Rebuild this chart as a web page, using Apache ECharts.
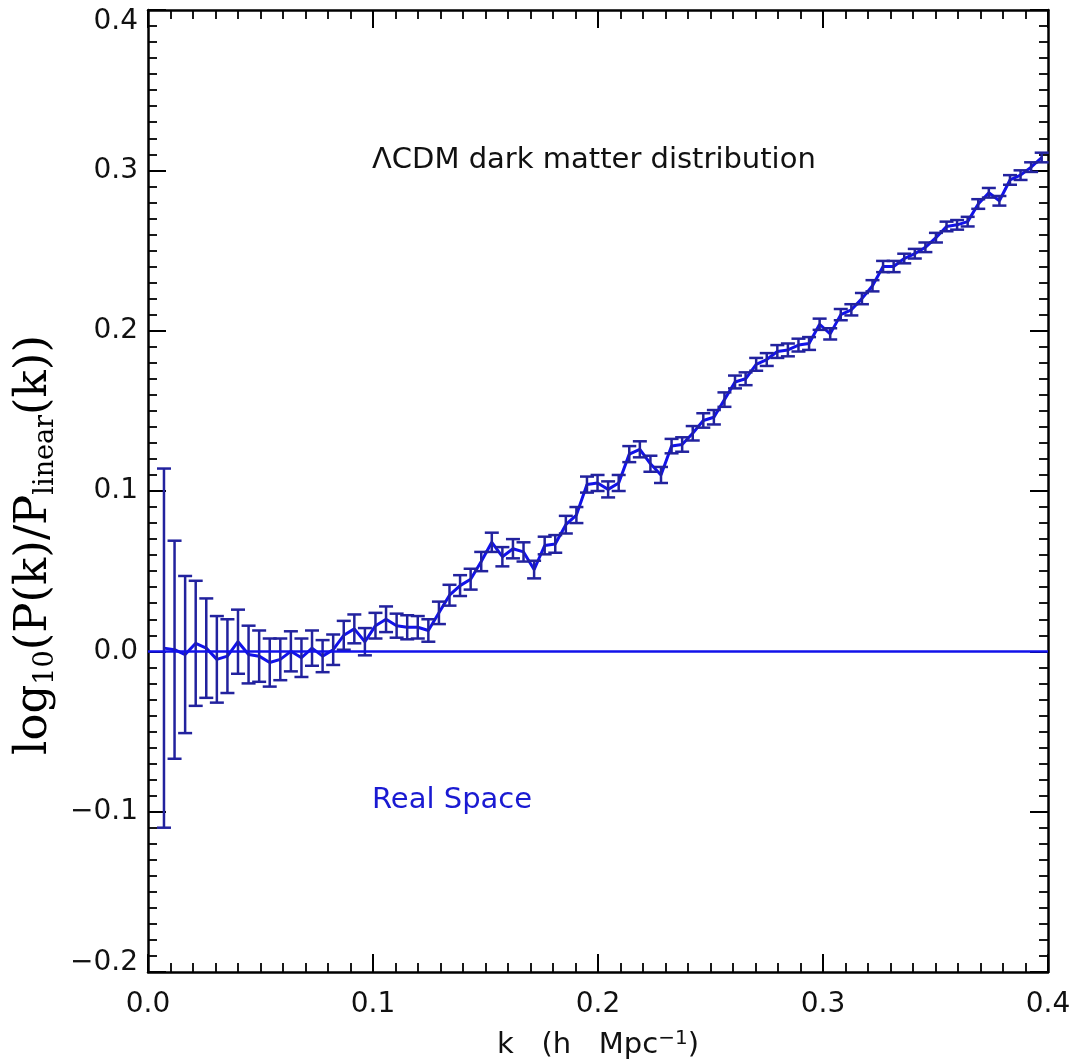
<!DOCTYPE html>
<html>
<head>
<meta charset="utf-8">
<script src="https://cdn.jsdelivr.net/npm/echarts@6/dist/echarts.min.js"></script>
<style>
  html, body { margin: 0; padding: 0; background: #fff; }
  #chart { width: 1070px; height: 1060px; }
</style>
</head>
<body>
<div id="chart"></div>
<script>
// k bins (h/Mpc)
const kValues = [
  0.0071, 0.0118, 0.0165, 0.0212, 0.0259, 0.0306, 0.0353, 0.0400, 0.0447, 0.0494,
  0.0541, 0.0588, 0.0635, 0.0682, 0.0729, 0.0776, 0.0823, 0.0870, 0.0917, 0.0964,
  0.1011, 0.1058, 0.1105, 0.1152, 0.1199, 0.1246, 0.1293, 0.1340, 0.1387, 0.1434,
  0.1481, 0.1528, 0.1575, 0.1622, 0.1669, 0.1716, 0.1763, 0.1810, 0.1857, 0.1904,
  0.1951, 0.1998, 0.2045, 0.2092, 0.2139, 0.2186, 0.2233, 0.2280, 0.2327, 0.2374,
  0.2421, 0.2468, 0.2515, 0.2562, 0.2609, 0.2656, 0.2703, 0.2750, 0.2797, 0.2844,
  0.2891, 0.2938, 0.2985, 0.3032, 0.3079, 0.3126, 0.3173, 0.3220, 0.3267, 0.3314,
  0.3361, 0.3408, 0.3455, 0.3502, 0.3549, 0.3596, 0.3643, 0.3690, 0.3737, 0.3784,
  0.3831, 0.3878, 0.3925, 0.3972
];

// log10(P(k)/P_linear(k))
const ratioValues = [
  0.002, 0.001, -0.002, 0.005, 0.002, -0.005, -0.003, 0.006, -0.002, -0.003,
  -0.007, -0.005, 0.000, -0.004, 0.002, -0.003, 0.001, 0.010, 0.014, 0.006,
  0.016, 0.020, 0.016, 0.015, 0.015, 0.013, 0.024, 0.035, 0.041, 0.045,
  0.056, 0.068, 0.059, 0.064, 0.062, 0.051, 0.066, 0.067, 0.079, 0.085,
  0.104, 0.105, 0.101, 0.105, 0.123, 0.126, 0.117, 0.110, 0.128, 0.129,
  0.136, 0.144, 0.146, 0.157, 0.168, 0.170, 0.179, 0.182, 0.187, 0.188,
  0.191, 0.192, 0.204, 0.198, 0.210, 0.213, 0.220, 0.228, 0.240, 0.240,
  0.245, 0.248, 0.252, 0.258, 0.265, 0.266, 0.268, 0.279, 0.286, 0.281,
  0.294, 0.297, 0.302, 0.308
];

// 1-sigma error
const errValues = [
  0.112, 0.068, 0.049, 0.039, 0.031, 0.027, 0.023, 0.020, 0.018, 0.016,
  0.015, 0.013, 0.0125, 0.012, 0.011, 0.010, 0.0095, 0.009, 0.009, 0.0085,
  0.008, 0.008, 0.0075, 0.0075, 0.007, 0.007, 0.007, 0.0065, 0.0065, 0.0065,
  0.006, 0.006, 0.006, 0.006, 0.006, 0.0055, 0.0055, 0.0055, 0.0055, 0.005,
  0.005, 0.005, 0.005, 0.005, 0.005, 0.005, 0.005, 0.005, 0.0045, 0.0045,
  0.0045, 0.0045, 0.0045, 0.0045, 0.004, 0.004, 0.004, 0.004, 0.004, 0.004,
  0.004, 0.004, 0.0035, 0.0035, 0.0035, 0.0035, 0.0035, 0.0035, 0.0035, 0.0035,
  0.003, 0.003, 0.003, 0.003, 0.003, 0.003, 0.003, 0.003, 0.003, 0.003,
  0.003, 0.003, 0.003, 0.003
];

const xTicks = [0.0, 0.1, 0.2, 0.3, 0.4];
const yTicks = [-0.2, -0.1, 0.0, 0.1, 0.2, 0.3, 0.4];

const lineColor = '#1212ea';
const barColor = '#22229e';
const labelFont = 'DejaVu Sans';

const chart = echarts.init(document.getElementById('chart'), null, { renderer: 'canvas' });

const lineData = kValues.map((k, i) => [k, ratioValues[i]]);
const barData = kValues.map((k, i) => [k, ratioValues[i] - errValues[i], ratioValues[i] + errValues[i]]);

const frameAxis = {
  type: 'value',
  axisLine: { show: true, onZero: false, lineStyle: { color: '#000', width: 2.5 } },
  axisTick: { show: true, inside: true, length: 18, lineStyle: { color: '#000', width: 2 } },
  minorTick: { show: true, splitNumber: 10, length: 9, lineStyle: { color: '#000', width: 1.8 } },
  splitLine: { show: false },
  minorSplitLine: { show: false }
};

const xBase = Object.assign({}, frameAxis, {
  min: xTicks[0], max: xTicks[xTicks.length - 1], interval: 0.1
});
const yBase = Object.assign({}, frameAxis, {
  min: yTicks[0], max: yTicks[yTicks.length - 1], interval: 0.1
});

// y tick label text; end labels are nudged inside the frame like the original
const yLabel = v => {
  const txt = (v < -1e-9 ? '−' : '') + Math.abs(v).toFixed(1);
  if (Math.abs(v - yTicks[yTicks.length - 1]) < 1e-9) return '{top|' + txt + '}';
  if (Math.abs(v - yTicks[0]) < 1e-9) return '{bot|' + txt + '}';
  return txt;
};

chart.setOption({
  animation: false,
  backgroundColor: '#fff',
  grid: { left: 148, right: 22, top: 10, bottom: 88, containLabel: false, outerBoundsMode: 'none' },
  xAxis: [
    Object.assign({}, xBase, {
      position: 'bottom',
      axisLabel: {
        color: '#111', fontSize: 28, fontFamily: labelFont, margin: 19,
        formatter: v => v.toFixed(1)
      },
      name: '{a|k   (h   Mpc}{sup|−1}{a|)}',
      nameLocation: 'middle',
      nameGap: 57,
      nameTextStyle: {
        rich: {
          a: { fontSize: 29, fontFamily: labelFont, color: '#111', lineHeight: 32 },
          sup: { fontSize: 20, fontFamily: labelFont, color: '#111', verticalAlign: 'top', lineHeight: 18 }
        }
      }
    }),
    Object.assign({}, xBase, { position: 'top', axisLabel: { show: false } })
  ],
  yAxis: [
    Object.assign({}, yBase, {
      position: 'left',
      axisLabel: {
        color: '#111', fontSize: 28, fontFamily: labelFont, margin: 10,
        formatter: yLabel,
        rich: {
          top: { fontSize: 28, fontFamily: labelFont, color: '#111', padding: [24, 0, 0, 0] },
          bot: { fontSize: 28, fontFamily: labelFont, color: '#111', padding: [0, 0, 18, 0] }
        }
      },
      name: '{m|log}{s|10}{m|(P(k)/P}{s|linear}{m|(k))}',
      nameLocation: 'middle',
      nameRotate: 90,
      nameGap: 71,
      nameTextStyle: {
        padding: [0, 108, 0, 0],
        rich: {
          m: { fontSize: 45, fontFamily: 'DejaVu Serif', color: '#000', lineHeight: 50 },
          s: { fontSize: 27, fontFamily: 'DejaVu Serif', color: '#000', verticalAlign: 'bottom', lineHeight: 28 }
        }
      }
    }),
    Object.assign({}, yBase, { position: 'right', axisLabel: { show: false } })
  ],
  graphic: [
    {
      type: 'text', left: 372, top: 146,
      style: { text: 'ΛCDM dark matter distribution', fill: '#111', font: '29px "DejaVu Sans"' }
    },
    {
      type: 'text', left: 372, top: 786,
      style: { text: 'Real Space', fill: '#1a1ad2', font: '29px "DejaVu Sans"' }
    }
  ],
  series: [
    {
      type: 'line',
      xAxisIndex: 0, yAxisIndex: 0,
      data: lineData,
      symbol: 'none',
      lineStyle: { color: lineColor, width: 3 },
      markLine: {
        silent: true,
        symbol: 'none',
        label: { show: false },
        lineStyle: { color: lineColor, width: 2.5, type: 'solid' },
        data: [{ yAxis: 0 }]
      },
      z: 3
    },
    {
      type: 'custom',
      xAxisIndex: 0, yAxisIndex: 0,
      data: barData,
      encode: { x: 0, y: [1, 2] },
      renderItem: function (params, api) {
        const k = api.value(0);
        const lo = api.coord([k, api.value(1)]);
        const hi = api.coord([k, api.value(2)]);
        const w = 7;
        const style = { stroke: barColor, lineWidth: 2.5, fill: null };
        return {
          type: 'group',
          children: [
            { type: 'line', shape: { x1: hi[0], y1: hi[1], x2: lo[0], y2: lo[1] }, style: style },
            { type: 'line', shape: { x1: hi[0] - w, y1: hi[1], x2: hi[0] + w, y2: hi[1] }, style: style },
            { type: 'line', shape: { x1: lo[0] - w, y1: lo[1], x2: lo[0] + w, y2: lo[1] }, style: style }
          ]
        };
      },
      z: 4
    }
  ]
});
</script>
</body>
</html>
